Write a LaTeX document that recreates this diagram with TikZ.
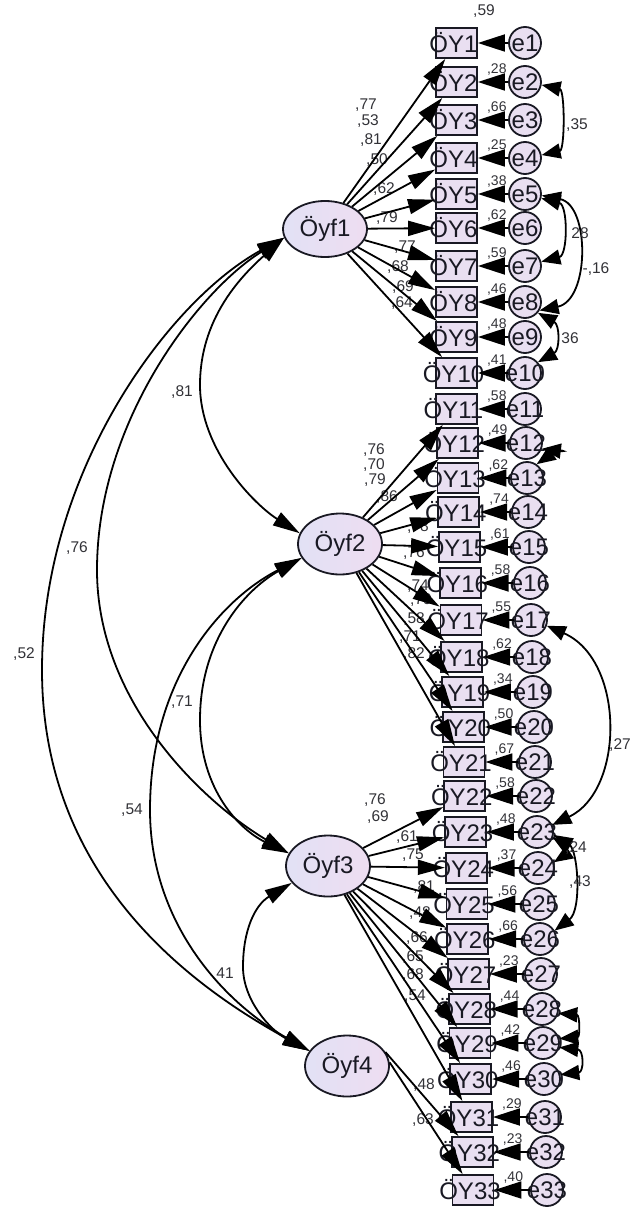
\documentclass[tikz,border=0pt]{standalone}
\usepackage{fontspec}
\setmainfont{Liberation Sans}
\usetikzlibrary{arrows.meta,shapes.geometric}
\definecolor{boxfill}{RGB}{233,223,241}
\definecolor{latleft}{RGB}{226,225,245}
\definecolor{latright}{RGB}{238,221,241}
\definecolor{ink}{RGB}{25,25,35}
\definecolor{labgray}{RGB}{50,50,55}
\begin{document}
\begin{tikzpicture}[x=1pt,y=-1pt,
  obs/.style={draw=ink, line width=1.8pt, fill=boxfill, minimum width=41pt, minimum height=30pt, inner sep=0pt, text=ink, font=\fontsize{24}{24}\selectfont},
  err/.style={draw=ink, circle, line width=1.8pt, fill=boxfill, minimum size=32pt, inner sep=0pt, text=ink, font=\fontsize{24}{24}\selectfont},
  lat/.style={draw=ink, ellipse, line width=1.8pt, left color=latleft, right color=latright, minimum width=84pt, minimum height=61pt, inner sep=0pt, text=ink, font=\fontsize{24}{24}\selectfont},
  load/.style={draw=black, line width=1.8pt, -{Triangle[length=27pt,width=15pt]}},
  epath/.style={draw=black, line width=1.8pt, -{Triangle[length=27pt,width=17pt]}},
  bi/.style={draw=black, line width=1.8pt, {Triangle[length=27pt,width=15pt]}-{Triangle[length=27pt,width=15pt]}},
  ebi/.style={draw=black, line width=1.8pt, {Triangle[length=19pt,width=15pt]}-{Triangle[length=19pt,width=15pt]}},
  lbl/.style={inner sep=0pt, text=labgray, font=\fontsize{15.5}{15.5}\selectfont},
  rlbl/.style={inner sep=0pt, text=labgray, font=\fontsize{14}{14}\selectfont},
]
\useasboundingbox (0,0) rectangle (632,1209);

% latent factors
\node[lat, minimum height=56pt] (f1) at (325,229) {Öyf1};
\node[lat] (f2) at (340,544) {Öyf2};
\node[lat] (f3) at (328,866) {Öyf3};
\node[lat] (f4) at (347,1066) {Öyf4};

% observed variables and errors
\foreach \i/\y in {1/43,2/82,3/120,4/158,5/194,6/228,7/266,8/302,9/337,10/373,11/409,12/443,13/478,14/512,15/547,16/583,17/620,18/657,19/692,20/727,21/762,22/796,23/832,24/868,25/904,26/939,27/974,28/1009,29/1043,30/1079,31/1117,32/1152,33/1190}{
  \pgfmathsetmacro\cx{456.5+0.75*max(0,\i-11)}
  \pgfmathsetmacro\ex{\cx+68.5+0.25*max(0,\i-11)}
  \node[obs] (b\i) at (\cx,\y) {\makebox[0pt]{\kern-6pt ÖY\i}};
  \node[err] (e\i) at (\ex,\y) {\makebox[0pt]{e\i}};
}
% squared multiple correlations
\node[lbl] (r1) at (484,11) {,59};
\foreach \i/\v in {2/28,3/66,4/25,5/38,6/62,7/59,8/46,9/48,10/41,11/58,12/49,13/62,14/74,15/61,16/58,17/55,18/62,19/34,20/50,21/67,22/58,23/48,24/37,25/56,26/66,27/23,28/44,29/42,30/46,31/29,32/23,33/40}{
  \node[rlbl, anchor=west] (r\i) at ([xshift=9pt,yshift=-3pt]b\i.north east) {,\v};
}

% loading labels
\foreach \i/\x/\y/\t in {1/366/105/{,77},2/368/121/{,53},3/371/140/{,81},4/377/160/{,50},5/384/189/{,62},6/387/218/{,79},7/405/247/{,77},8/398/267/{,68},9/403/287/{,69},10/402/303/{,64},11/374/450/{,76},12/374/465/{,70},13/375/480/{,79},14/387/497/{,86},15/418/527/{,78},16/414/553/{,76},17/418/586/{,74},18/421/600/{,79},19/414/619/{,58},20/410/637/{,71},21/414/654/{,82},22/375/800/{,76},23/378/817/{,69},24/407/837/{,61},25/413/855/{,75},26/424/887/{,81},27/420/913/{,48},28/417/938/{,66},29/413/957/{,65},30/413/975/{,68},31/415/996/{,54},32/424/1085/{,48},33/423/1120/{,63}}{
  \node[lbl] (l\i) at (\x,\y) {\t};
}

% loadings
\foreach \i in {1,...,10} {\draw[load] (f1) -- (b\i);}
\foreach \i in {11,...,21} {\draw[load] (f2) -- (b\i);}
\foreach \i in {22,...,31} {\draw[load] (f3) -- (b\i);}
\draw[load] (f4.20) -- (b32);
\draw[load] (f4.5) -- (b33);
% error paths
\foreach \i in {1,...,33} {\draw[epath] (e\i) -- (b\i);}

% factor covariances
\coordinate (m81) at (200,385);
\coordinate (m76) at (97,570);
\coordinate (m52) at (42,670);
\coordinate (m71) at (200,720);
\coordinate (m54) at (150,810);
\coordinate (m41) at (243,967);
\draw[bi] (f1.192) .. controls (239,278) and (200,320) .. (m81) .. controls (200,450) and (255,505) .. (f2.165);
\draw[bi] (f1.192) .. controls (200,290) and (97,420) .. (m76) .. controls (97,700) and (200,800) .. (f3.162);
\draw[bi] (f1.192) .. controls (170,300) and (42,470) .. (m52) .. controls (42,870) and (180,980) .. (f4.158);
\draw[bi] (f2.200) .. controls (245,590) and (200,640) .. (m71) .. controls (200,790) and (240,830) .. (f3.162);
\draw[bi] (f2.200) .. controls (220,600) and (150,680) .. (m54) .. controls (150,920) and (220,1000) .. (f4.158);
\draw[bi] (f3.205) .. controls (255,905) and (243,930) .. (m41) .. controls (243,1000) and (270,1030) .. (f4.158);
\node[lbl] (c81) at (182,392) {,81};
\node[lbl] (c76) at (77,548) {,76};
\node[lbl] (c52) at (24,654) {,52};
\node[lbl] (c71) at (182,702) {,71};
\node[lbl] (c54) at (132,810) {,54};
\node[lbl] (c41) at (225,973) {41};

% error covariances
\draw[ebi] (e2.-10) .. controls (565,90) and (565,150) .. (e4.10);
\draw[ebi] (e5.-15) .. controls (568,205) and (568,255) .. (e7.15);
\draw[ebi] (e5.-5) .. controls (590,205) and (590,300) .. (e8.-30);
\draw[ebi] (e8.-40) .. controls (560,325) and (560,350) .. (e10.40);
\draw[ebi] (e12.-20) .. controls (568,452) and (560,448) .. (e13.55);
\draw[ebi] (e17.-20) .. controls (625,660) and (625,790) .. (e23.25);
\draw[ebi] (e23.-20) .. controls (565,845) and (565,855) .. (e24.20);
\draw[ebi] (e23.-10) .. controls (578,850) and (582,910) .. (e26.30);
\draw[ebi] (e28.-15) .. controls (580,1015) and (580,1037) .. (e29.15);
\draw[ebi] (e29.-15) .. controls (584,1050) and (584,1072) .. (e30.15);
\node[lbl] (c35) at (577,125) {,35};
\node[lbl] (c28) at (580,233) {28};
\node[lbl] (c16) at (596,269) {-,16};
\node[lbl] (c36) at (570,338) {36};
\node[lbl] (c27) at (620,745) {,27};
\node[lbl] (c24) at (576,848) {,24};
\node[lbl] (c43) at (580,882) {,43};
\end{tikzpicture}
\end{document}
